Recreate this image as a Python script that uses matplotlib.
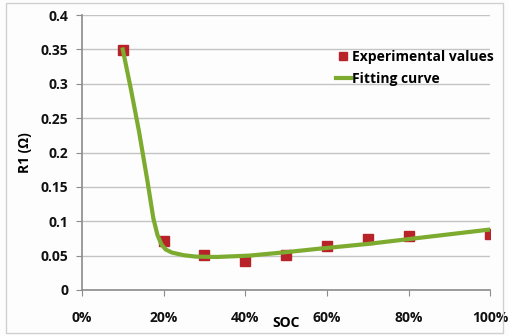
import matplotlib.pyplot as plt
import matplotlib.patches as mpatches
from matplotlib.ticker import FuncFormatter, MultipleLocator

plt.rcParams['font.family'] = ['Open Sans', 'DejaVu Sans']
plt.rcParams['font.weight'] = 'bold'

# measured R1 per state of charge
soc = [10, 20, 30, 40, 50, 60, 70, 80, 100]
r1 = [0.349, 0.071, 0.051, 0.042, 0.051, 0.064, 0.074, 0.078, 0.082]

# fitted curve
fit_soc = [10, 12, 14, 16, 17.5, 18.5, 19.5, 20.5, 22, 25, 28, 33, 41, 50, 58, 70, 80, 90, 100]
fit_r1 = [0.350, 0.292, 0.230, 0.160, 0.104, 0.080, 0.066, 0.059, 0.0545, 0.0505, 0.0485, 0.048, 0.050,
          0.055, 0.060, 0.067, 0.074, 0.081, 0.088]

fig = plt.figure(figsize=(5.09, 3.36), dpi=100)
fig.patch.set_facecolor('#fdfdfd')
fig.patches.append(mpatches.Rectangle((0.012, 0.008), 0.976, 0.982, transform=fig.transFigure,
                                      fill=False, edgecolor='#d0d0d0', linewidth=1))

ax = fig.add_axes([0.161, 0.137, 0.802, 0.818])
ax.set_facecolor('#fdfdfd')

ax.plot(soc, r1, linestyle='none', marker='s', markersize=6.5, color='#b8232a',
        label='Experimental values', zorder=2)
ax.plot(fit_soc, fit_r1, color='#7dab2f', linewidth=3, label='Fitting curve', zorder=3,
        solid_joinstyle='round')

ax.set_xlim(0, 100)
ax.set_ylim(0, 0.4)
ax.xaxis.set_major_locator(MultipleLocator(20))
ax.yaxis.set_major_locator(MultipleLocator(0.05))
ax.xaxis.set_major_formatter(FuncFormatter(lambda v, p: f'{v:.0f}%'))
ax.yaxis.set_major_formatter(FuncFormatter(lambda v, p: '0' if v == 0 else f'{v:g}'))
ax.grid(axis='y', color='#c4c4c4', linewidth=1)
ax.set_axisbelow(True)

for s in ['top', 'right']:
    ax.spines[s].set_visible(False)
for s in ['left', 'bottom']:
    ax.spines[s].set_color('#8c8c8c')
    ax.spines[s].set_linewidth(1.2)
ax.tick_params(axis='both', colors='#8c8c8c', length=4, labelcolor='#111111', labelsize=10)
ax.tick_params(axis='x', pad=11)
ax.tick_params(axis='y', pad=6)

ax.set_xlabel('SOC', fontsize=10, fontweight='bold', labelpad=-6)
ax.set_ylabel('R1 (Ω)', fontsize=10, fontweight='bold', labelpad=6)

ax.legend(loc='upper left', bbox_to_anchor=(0.622, 0.874), frameon=False, fontsize=10,
          borderpad=0, borderaxespad=0, handlelength=1.1, handletextpad=0.05,
          labelspacing=0.6, markerscale=0.8)

fig.savefig('out.png', dpi=100, facecolor=fig.get_facecolor())
